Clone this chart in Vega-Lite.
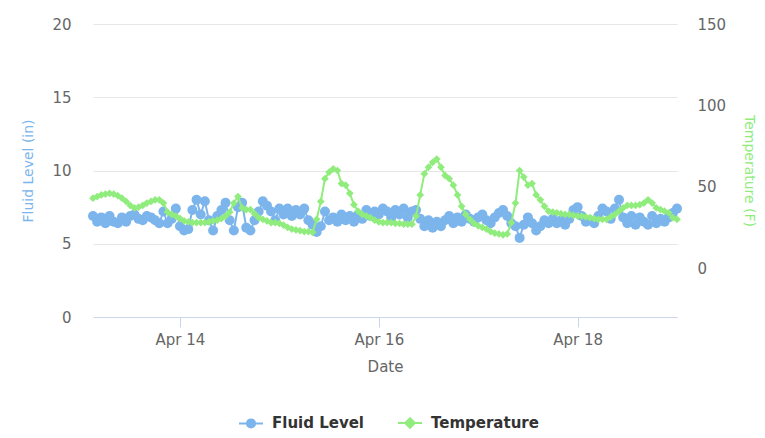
{
  "$schema": "https://vega.github.io/schema/vega-lite/v6.json",
  "width": 584,
  "height": 293,
  "autosize": {"type": "none"},
  "padding": {"left": 93, "top": 24, "right": 88, "bottom": 121},
  "background": "white",
  "config": {
    "font": "DejaVu Sans",
    "view": {"stroke": null},
    "axis": {"gridColor": "#e6e6e6", "gridWidth": 1, "labelColor": "#666666", "labelFontSize": 15, "titleFontWeight": "normal", "titleFontSize": 15}
  },
  "data": {"values": [
    {"d":"2017-04-13T03:00","f":6.9,"t":43},
    {"d":"2017-04-13T04:00","f":6.5,"t":44},
    {"d":"2017-04-13T05:00","f":6.8,"t":45},
    {"d":"2017-04-13T06:00","f":6.4,"t":45.5},
    {"d":"2017-04-13T07:00","f":6.9,"t":46},
    {"d":"2017-04-13T08:00","f":6.5,"t":45.5},
    {"d":"2017-04-13T09:00","f":6.4,"t":44.5},
    {"d":"2017-04-13T10:00","f":6.8,"t":43},
    {"d":"2017-04-13T11:00","f":6.5,"t":41},
    {"d":"2017-04-13T12:00","f":6.9,"t":38.5},
    {"d":"2017-04-13T13:00","f":7.0,"t":37},
    {"d":"2017-04-13T14:00","f":6.7,"t":37.5},
    {"d":"2017-04-13T15:00","f":6.6,"t":38.5},
    {"d":"2017-04-13T16:00","f":6.9,"t":40},
    {"d":"2017-04-13T17:00","f":6.8,"t":41},
    {"d":"2017-04-13T18:00","f":6.6,"t":42},
    {"d":"2017-04-13T19:00","f":6.4,"t":42},
    {"d":"2017-04-13T20:00","f":7.2,"t":40},
    {"d":"2017-04-13T21:00","f":6.4,"t":34.5},
    {"d":"2017-04-13T22:00","f":6.7,"t":33},
    {"d":"2017-04-13T23:00","f":7.4,"t":32},
    {"d":"2017-04-14T00:00","f":6.2,"t":30.5},
    {"d":"2017-04-14T01:00","f":5.9,"t":29},
    {"d":"2017-04-14T02:00","f":6.0,"t":28.5},
    {"d":"2017-04-14T03:00","f":7.3,"t":28},
    {"d":"2017-04-14T04:00","f":8.0,"t":28},
    {"d":"2017-04-14T05:00","f":7.0,"t":28},
    {"d":"2017-04-14T06:00","f":7.9,"t":28},
    {"d":"2017-04-14T07:00","f":6.6,"t":28.5},
    {"d":"2017-04-14T08:00","f":5.9,"t":29},
    {"d":"2017-04-14T09:00","f":6.9,"t":29.5},
    {"d":"2017-04-14T10:00","f":7.3,"t":30.5},
    {"d":"2017-04-14T11:00","f":7.8,"t":32},
    {"d":"2017-04-14T12:00","f":6.6,"t":34.5},
    {"d":"2017-04-14T13:00","f":5.9,"t":40},
    {"d":"2017-04-14T14:00","f":7.5,"t":44},
    {"d":"2017-04-14T15:00","f":7.8,"t":37},
    {"d":"2017-04-14T16:00","f":6.1,"t":36},
    {"d":"2017-04-14T17:00","f":5.9,"t":36},
    {"d":"2017-04-14T18:00","f":6.6,"t":33.5},
    {"d":"2017-04-14T19:00","f":7.2,"t":31},
    {"d":"2017-04-14T20:00","f":7.9,"t":30},
    {"d":"2017-04-14T21:00","f":7.6,"t":29},
    {"d":"2017-04-14T22:00","f":7.2,"t":28},
    {"d":"2017-04-14T23:00","f":6.6,"t":28},
    {"d":"2017-04-15T00:00","f":7.4,"t":27.5},
    {"d":"2017-04-15T01:00","f":7.0,"t":26.5},
    {"d":"2017-04-15T02:00","f":7.4,"t":25},
    {"d":"2017-04-15T03:00","f":6.9,"t":24},
    {"d":"2017-04-15T04:00","f":7.3,"t":23.5},
    {"d":"2017-04-15T05:00","f":7.0,"t":23},
    {"d":"2017-04-15T06:00","f":7.4,"t":22.5},
    {"d":"2017-04-15T07:00","f":6.6,"t":22.5},
    {"d":"2017-04-15T08:00","f":6.3,"t":22},
    {"d":"2017-04-15T09:00","f":5.8,"t":30},
    {"d":"2017-04-15T10:00","f":6.2,"t":41},
    {"d":"2017-04-15T11:00","f":7.2,"t":55},
    {"d":"2017-04-15T12:00","f":6.6,"t":59},
    {"d":"2017-04-15T13:00","f":6.8,"t":61},
    {"d":"2017-04-15T14:00","f":6.5,"t":60},
    {"d":"2017-04-15T15:00","f":7.0,"t":52},
    {"d":"2017-04-15T16:00","f":6.6,"t":51},
    {"d":"2017-04-15T17:00","f":6.9,"t":46},
    {"d":"2017-04-15T18:00","f":6.5,"t":39},
    {"d":"2017-04-15T19:00","f":7.0,"t":35},
    {"d":"2017-04-15T20:00","f":6.7,"t":33},
    {"d":"2017-04-15T21:00","f":7.3,"t":32},
    {"d":"2017-04-15T22:00","f":6.9,"t":31},
    {"d":"2017-04-15T23:00","f":7.2,"t":29.5},
    {"d":"2017-04-16T00:00","f":7.0,"t":28.5},
    {"d":"2017-04-16T01:00","f":7.4,"t":28},
    {"d":"2017-04-16T02:00","f":7.2,"t":28},
    {"d":"2017-04-16T03:00","f":6.8,"t":28},
    {"d":"2017-04-16T04:00","f":7.3,"t":27.5},
    {"d":"2017-04-16T05:00","f":7.0,"t":27.5},
    {"d":"2017-04-16T06:00","f":7.4,"t":27},
    {"d":"2017-04-16T07:00","f":6.8,"t":27},
    {"d":"2017-04-16T08:00","f":7.2,"t":27},
    {"d":"2017-04-16T09:00","f":7.3,"t":32},
    {"d":"2017-04-16T10:00","f":6.7,"t":45},
    {"d":"2017-04-16T11:00","f":6.2,"t":58},
    {"d":"2017-04-16T12:00","f":6.6,"t":62},
    {"d":"2017-04-16T13:00","f":6.1,"t":65},
    {"d":"2017-04-16T14:00","f":6.5,"t":67},
    {"d":"2017-04-16T15:00","f":6.2,"t":62},
    {"d":"2017-04-16T16:00","f":6.6,"t":57},
    {"d":"2017-04-16T17:00","f":6.9,"t":55},
    {"d":"2017-04-16T18:00","f":6.4,"t":51},
    {"d":"2017-04-16T19:00","f":6.8,"t":45},
    {"d":"2017-04-16T20:00","f":6.5,"t":38},
    {"d":"2017-04-16T21:00","f":7.0,"t":33},
    {"d":"2017-04-16T22:00","f":6.7,"t":30},
    {"d":"2017-04-16T23:00","f":6.5,"t":27.5},
    {"d":"2017-04-17T00:00","f":6.8,"t":26},
    {"d":"2017-04-17T01:00","f":7.0,"t":25},
    {"d":"2017-04-17T02:00","f":6.6,"t":24},
    {"d":"2017-04-17T03:00","f":6.4,"t":22.5},
    {"d":"2017-04-17T04:00","f":6.8,"t":21.5},
    {"d":"2017-04-17T05:00","f":7.1,"t":21},
    {"d":"2017-04-17T06:00","f":7.3,"t":20.5},
    {"d":"2017-04-17T07:00","f":6.9,"t":21},
    {"d":"2017-04-17T08:00","f":6.4,"t":28},
    {"d":"2017-04-17T09:00","f":6.2,"t":40},
    {"d":"2017-04-17T10:00","f":5.4,"t":60},
    {"d":"2017-04-17T11:00","f":6.3,"t":56},
    {"d":"2017-04-17T12:00","f":6.8,"t":51},
    {"d":"2017-04-17T13:00","f":6.4,"t":52},
    {"d":"2017-04-17T14:00","f":5.9,"t":45},
    {"d":"2017-04-17T15:00","f":6.2,"t":42},
    {"d":"2017-04-17T16:00","f":6.6,"t":38},
    {"d":"2017-04-17T17:00","f":6.4,"t":35},
    {"d":"2017-04-17T18:00","f":6.7,"t":34.5},
    {"d":"2017-04-17T19:00","f":6.4,"t":34},
    {"d":"2017-04-17T20:00","f":6.6,"t":33.5},
    {"d":"2017-04-17T21:00","f":6.3,"t":33},
    {"d":"2017-04-17T22:00","f":6.7,"t":33},
    {"d":"2017-04-17T23:00","f":7.3,"t":32.5},
    {"d":"2017-04-18T00:00","f":7.5,"t":32},
    {"d":"2017-04-18T01:00","f":6.9,"t":32},
    {"d":"2017-04-18T02:00","f":6.5,"t":31.5},
    {"d":"2017-04-18T03:00","f":6.6,"t":31},
    {"d":"2017-04-18T04:00","f":6.4,"t":30.5},
    {"d":"2017-04-18T05:00","f":6.9,"t":30},
    {"d":"2017-04-18T06:00","f":7.4,"t":30},
    {"d":"2017-04-18T07:00","f":7.2,"t":30},
    {"d":"2017-04-18T08:00","f":6.7,"t":31.5},
    {"d":"2017-04-18T09:00","f":7.4,"t":33},
    {"d":"2017-04-18T10:00","f":8.0,"t":35},
    {"d":"2017-04-18T11:00","f":6.8,"t":37},
    {"d":"2017-04-18T12:00","f":6.4,"t":38.5},
    {"d":"2017-04-18T13:00","f":6.9,"t":38.5},
    {"d":"2017-04-18T14:00","f":6.3,"t":38.5},
    {"d":"2017-04-18T15:00","f":6.8,"t":39},
    {"d":"2017-04-18T16:00","f":6.5,"t":40},
    {"d":"2017-04-18T17:00","f":6.3,"t":42},
    {"d":"2017-04-18T18:00","f":6.9,"t":40},
    {"d":"2017-04-18T19:00","f":6.4,"t":37},
    {"d":"2017-04-18T20:00","f":6.7,"t":36},
    {"d":"2017-04-18T21:00","f":6.5,"t":35},
    {"d":"2017-04-18T22:00","f":6.8,"t":34},
    {"d":"2017-04-18T23:00","f":7.1,"t":31},
    {"d":"2017-04-19T00:00","f":7.4,"t":30}
  ]},
  "encoding": {
    "x": {
      "field": "d", "type": "temporal",
      "scale": {"domain": [{"year": 2017, "month": 4, "date": 13, "hours": 3}, {"year": 2017, "month": 4, "date": 19}], "nice": false},
      "axis": {
        "title": "Date", "titleColor": "#666666", "titlePadding": 12,
        "values": [{"year": 2017, "month": 4, "date": 14}, {"year": 2017, "month": 4, "date": 16}, {"year": 2017, "month": 4, "date": 18}],
        "format": "%b %d", "grid": false, "domainColor": "#ccd6eb", "tickColor": "#ccd6eb", "tickSize": 10, "labelPadding": 5
      }
    }
  },
  "layer": [
    {
      "encoding": {
        "y": {"field": "f", "type": "quantitative", "scale": {"domain": [0, 20], "nice": false},
          "axis": {"orient": "left", "values": [0, 5, 10, 15, 20], "title": "Fluid Level (in)", "titleColor": "#7cb5ec", "titleFontSize": 14, "titlePadding": 16, "domain": false, "ticks": false, "labelPadding": 22}}
      },
      "layer": [
        {"mark": {"type": "line", "strokeWidth": 2, "color": "#7cb5ec"}},
        {"mark": {"type": "point", "filled": true, "opacity": 1, "shape": "circle", "size": 100, "color": "#7cb5ec"}},
        {"mark": {"type": "point", "filled": true, "opacity": 0},
          "encoding": {
            "fill": {"datum": "Fluid Level", "scale": {"domain": ["Fluid Level", "Temperature"], "range": ["#7cb5ec", "#90ed7d"]},
              "legend": {"title": null, "orient": "none", "legendX": 145, "legendY": 386, "direction": "horizontal", "labelFontSize": 15, "labelFontWeight": "bold", "labelColor": "#333333", "symbolSize": 576, "symbolStrokeWidth": 2, "symbolOpacity": 1, "labelOffset": 8, "columnPadding": 30}},
            "stroke": {"datum": "Fluid Level", "scale": {"domain": ["Fluid Level", "Temperature"], "range": ["#7cb5ec", "#90ed7d"]}},
            "shape": {"datum": "Fluid Level", "scale": {"domain": ["Fluid Level", "Temperature"], "range": ["M-1,0L1,0M-0.34,0A0.34,0.34,0,1,0,0.34,0A0.34,0.34,0,1,0,-0.34,0Z", "M-1,0L1,0M0,-0.4L0.4,0L0,0.4L-0.4,0Z"]}}
          }},
        {"mark": {"type": "point", "filled": true, "opacity": 0},
          "encoding": {
            "fill": {"datum": "Temperature"},
            "stroke": {"datum": "Temperature"},
            "shape": {"datum": "Temperature"}
          }}
      ]
    },
    {
      "encoding": {
        "y": {"field": "t", "type": "quantitative", "scale": {"domain": [-30, 150], "nice": false},
          "axis": {"orient": "right", "values": [0, 50, 100, 150], "title": "Temperature (F)", "titleColor": "#90ed7d", "titleFontSize": 14, "titlePadding": 16, "domain": false, "ticks": false, "labelPadding": 20}}
      },
      "layer": [
        {"mark": {"type": "line", "strokeWidth": 2, "color": "#90ed7d"}},
        {"mark": {"type": "point", "filled": true, "opacity": 1, "shape": "diamond", "size": 60, "color": "#90ed7d"}}
      ]
    }
  ],
  "resolve": {"scale": {"y": "independent"}}
}
